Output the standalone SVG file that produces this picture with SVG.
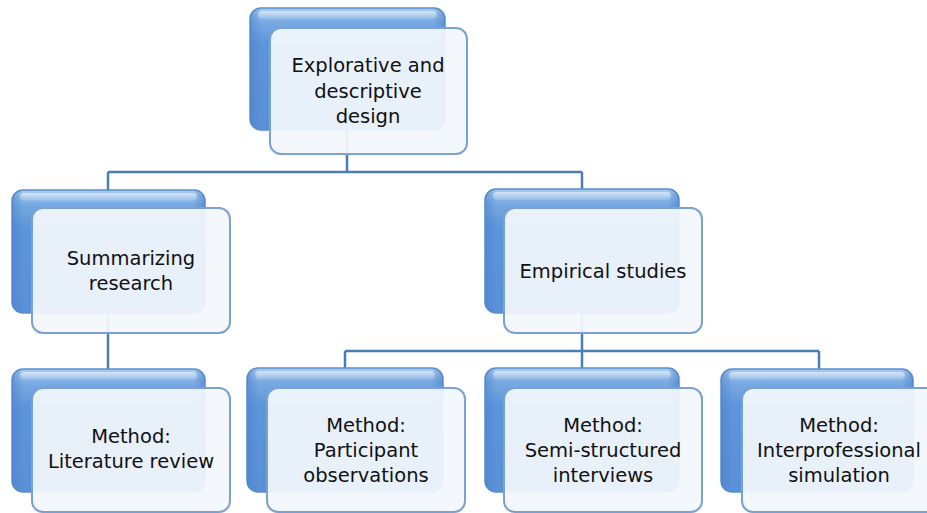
<svg xmlns="http://www.w3.org/2000/svg" width="927" height="513" viewBox="0 0 927 513">
  <defs>
    <linearGradient id="backGrad" x1="0" y1="0" x2="0" y2="1">
      <stop offset="0" stop-color="#a9cbef"/>
      <stop offset="0.12" stop-color="#78a9e2"/>
      <stop offset="0.3" stop-color="#5d95da"/>
      <stop offset="1" stop-color="#5a91d6"/>
    </linearGradient>
    <linearGradient id="sideGrad" x1="0" y1="0" x2="1" y2="0">
      <stop offset="0" stop-color="#4a80c8" stop-opacity="0.55"/>
      <stop offset="0.06" stop-color="#4a80c8" stop-opacity="0"/>
      <stop offset="0.94" stop-color="#4a80c8" stop-opacity="0"/>
      <stop offset="1" stop-color="#4a80c8" stop-opacity="0.55"/>
    </linearGradient>
    <linearGradient id="hiGrad" x1="0" y1="0" x2="0" y2="1">
      <stop offset="0" stop-color="#ffffff" stop-opacity="0.55"/>
      <stop offset="1" stop-color="#ffffff" stop-opacity="0.1"/>
    </linearGradient>
  </defs>
  <style>
    .back { fill: url(#backGrad); stroke: #5a8dcf; stroke-width: 1.5; }
    .side { fill: url(#sideGrad); }
    .hi { fill: url(#hiGrad); }
    .front { fill: #f3f7fc; fill-opacity: 0.93; stroke: #7aa1d0; stroke-width: 2; }
    .conn { fill: none; stroke: #4b7cb7; stroke-width: 2.5; }
    .lbl { font-family: "DejaVu Sans", "Open Sans", "Liberation Sans", sans-serif; font-size: 19.5px; fill: #111111; text-anchor: middle; }
  </style>
  <rect width="927" height="513" fill="#ffffff"/>

  <g id="connectors">
    <path class="conn" d="M347,130 V172"/>
    <path class="conn" d="M108,172 H582"/>
    <path class="conn" d="M108,172 V190"/>
    <path class="conn" d="M582,172 V190"/>
    <path class="conn" d="M108,313 V369"/>
    <path class="conn" d="M582,313 V351"/>
    <path class="conn" d="M345,351 H819"/>
    <path class="conn" d="M345,351 V369"/>
    <path class="conn" d="M582,351 V369"/>
    <path class="conn" d="M819,351 V369"/>
  </g>

  <g id="node-design">
    <rect class="back" x="250" y="8" width="195" height="122" rx="11"/>
    <rect class="side" x="250" y="8" width="195" height="122" rx="11"/>
    <rect class="hi" x="258" y="11" width="179" height="8" rx="4"/>
    <rect class="front" x="270" y="28" width="197" height="126" rx="11"/>
    <text class="lbl" x="368" y="72">Explorative and</text>
    <text class="lbl" x="368" y="97.5">descriptive</text>
    <text class="lbl" x="368" y="123">design</text>
  </g>

  <g id="node-summarizing">
    <rect class="back" x="12" y="190" width="193" height="123" rx="11"/>
    <rect class="side" x="12" y="190" width="193" height="123" rx="11"/>
    <rect class="hi" x="20" y="193" width="177" height="8" rx="4"/>
    <rect class="front" x="32" y="208" width="198" height="125" rx="11"/>
    <text class="lbl" x="131" y="265">Summarizing</text>
    <text class="lbl" x="131" y="290">research</text>
  </g>

  <g id="node-empirical">
    <rect class="back" x="485" y="189" width="194" height="124" rx="11"/>
    <rect class="side" x="485" y="189" width="194" height="124" rx="11"/>
    <rect class="hi" x="493" y="192" width="178" height="8" rx="4"/>
    <rect class="front" x="504" y="208" width="198" height="125" rx="11"/>
    <text class="lbl" x="603" y="278">Empirical studies</text>
  </g>

  <g id="node-literature">
    <rect class="back" x="12" y="369" width="193" height="123" rx="11"/>
    <rect class="side" x="12" y="369" width="193" height="123" rx="11"/>
    <rect class="hi" x="20" y="372" width="177" height="8" rx="4"/>
    <rect class="front" x="32" y="388" width="198" height="124" rx="11"/>
    <text class="lbl" x="131" y="443">Method:</text>
    <text class="lbl" x="131" y="468">Literature review</text>
  </g>

  <g id="node-observations">
    <rect class="back" x="247" y="368" width="196" height="124" rx="11"/>
    <rect class="side" x="247" y="368" width="196" height="124" rx="11"/>
    <rect class="hi" x="255" y="371" width="180" height="8" rx="4"/>
    <rect class="front" x="267" y="388" width="198" height="124" rx="11"/>
    <text class="lbl" x="366" y="432">Method:</text>
    <text class="lbl" x="366" y="457">Participant</text>
    <text class="lbl" x="366" y="482">observations</text>
  </g>

  <g id="node-interviews">
    <rect class="back" x="485" y="368" width="194" height="124" rx="11"/>
    <rect class="side" x="485" y="368" width="194" height="124" rx="11"/>
    <rect class="hi" x="493" y="371" width="178" height="8" rx="4"/>
    <rect class="front" x="504" y="388" width="198" height="124" rx="11"/>
    <text class="lbl" x="603" y="432">Method:</text>
    <text class="lbl" x="603" y="457">Semi-structured</text>
    <text class="lbl" x="603" y="482">interviews</text>
  </g>

  <g id="node-simulation">
    <rect class="back" x="721" y="369" width="192" height="123" rx="11"/>
    <rect class="side" x="721" y="369" width="192" height="123" rx="11"/>
    <rect class="hi" x="729" y="372" width="176" height="8" rx="4"/>
    <rect class="front" x="742" y="388" width="198" height="124" rx="11"/>
    <text class="lbl" x="839" y="432">Method:</text>
    <text class="lbl" x="839" y="457">Interprofessional</text>
    <text class="lbl" x="839" y="482">simulation</text>
  </g>
</svg>
